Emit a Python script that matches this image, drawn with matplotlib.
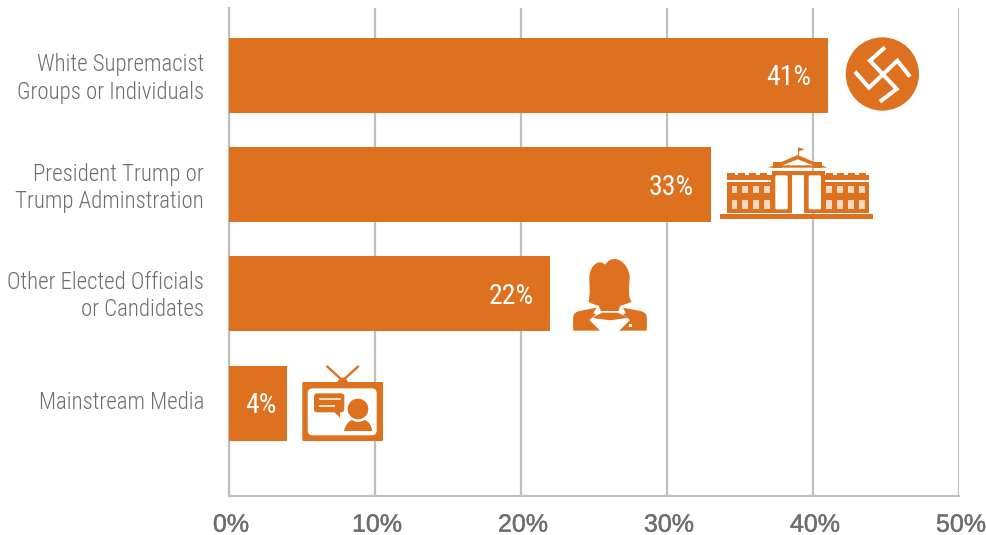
import matplotlib
matplotlib.use("Agg")
import matplotlib.pyplot as plt
import matplotlib.patheffects as pe
from matplotlib import font_manager as fm
from matplotlib.patches import Circle, Polygon, Rectangle, FancyBboxPatch, PathPatch
from matplotlib.path import Path
from matplotlib.transforms import ScaledTranslation

categories = ["White Supremacist\nGroups or Individuals", "President Trump or\nTrump Adminstration",
              "Other Elected Officials\nor Candidates", "Mainstream Media"]
values = [41, 33, 22, 4]
value_labels = ["41%", "33%", "22%", "4%"]
x_ticks = [0, 10, 20, 30, 40, 50]
x_tick_labels = ["0%", "10%", "20%", "30%", "40%", "50%"]

ORANGE = "#dd711f"
GRID = "#bfbfbf"
TEXT = "#6d6e71"
W, H = 987, 535

names = {f.name for f in fm.fontManager.ttflist}
narrow = next((n for n in ("Roboto Condensed", "Archivo Narrow", "Liberation Sans Narrow", "Roboto") if n in names))

fig = plt.figure(figsize=(W / 100, H / 100), dpi=100, facecolor="white")
L, R, T, B = 229, 959, 8, 496
ax = fig.add_axes([L / W, 1 - B / H, (R - L) / W, (B - T) / H])
step = 109.35
ax.barh(range(4), values, height=75 / step, color=ORANGE, zorder=3)
ax.set_xlim(0, 50)
ax.set_ylim((B - 75.0) / step, (T - 75.0) / step)
ax.set_xticks(x_ticks, x_tick_labels, family="Liberation Sans", fontsize=18, color=TEXT)
ax.set_yticks(range(4), categories, family=narrow, fontweight=300, fontsize=16.5, color=TEXT, linespacing=1.23)
ax.tick_params(axis="both", length=0)
ax.tick_params(axis="y", pad=18)
ax.tick_params(axis="x", pad=12)
def px(dx, dy):
    return ScaledTranslation(dx / 100, dy / 100, fig.dpi_scale_trans)
for t in ax.get_xticklabels():
    t.set_transform(t.get_transform() + px(2, 0))
    t.set_path_effects([pe.withStroke(linewidth=0.3, foreground=TEXT)])
for t, dy in zip(ax.get_yticklabels(), (1, 0.5, 2, 3.5)):
    t.set_transform(t.get_transform() + px(0, dy))
ax.grid(axis="x", color=GRID, lw=1.6, zorder=1)
for s in ("top", "right"):
    ax.spines[s].set_visible(False)
for s in ("left", "bottom"):
    ax.spines[s].set_color(GRID)
    ax.spines[s].set_linewidth(1.6)
for i, (v, lab) in enumerate(zip(values, value_labels)):
    ax.annotate(lab, (v, i), xytext=(-8 if v < 10 else -12, -2), textcoords="offset points",
                ha="right", va="center", color="white", family=narrow, fontweight=400, fontsize=20, zorder=4)

# Pictograms, drawn in a pixel-space overlay
ov = fig.add_axes([0, 0, 1, 1], facecolor="none")
ov.set_xlim(0, W)
ov.set_ylim(H, 0)
ov.axis("off")

def conv(ox, oy, pts):
    return [(ox + x / 3, oy + y / 3) for x, y in pts]

def poly(ox, oy, pts, color=ORANGE):
    ov.add_patch(Polygon(conv(ox, oy, pts), closed=True, fc=color, ec="none"))

def curve(ox, oy, start, segs, color=ORANGE):
    """Closed shape from a start point and cubic segments (c1, c2, end)."""
    verts, codes = [start], [Path.MOVETO]
    for c1, c2, e in segs:
        verts += [c1, c2, e]
        codes += [Path.CURVE4] * 3
    verts.append(start)
    codes.append(Path.CLOSEPOLY)
    ov.add_patch(PathPatch(Path(conv(ox, oy, verts), codes), fc=color, ec="none"))

def rect(ox, oy, x0, y0, x1, y1, color=ORANGE):
    ov.add_patch(Rectangle((ox + x0 / 3, oy + y0 / 3), (x1 - x0) / 3, (y1 - y0) / 3, fc=color, ec="none"))

def rrect(ox, oy, x0, y0, x1, y1, r, color=ORANGE):
    ov.add_patch(FancyBboxPatch((ox + (x0 + r) / 3, oy + (y0 + r) / 3), (x1 - x0 - 2 * r) / 3, (y1 - y0 - 2 * r) / 3,
                                boxstyle=f"round,pad={r / 3}", fc=color, ec="none"))

def line(ox, oy, pts, lw, color="white"):
    p = conv(ox, oy, pts)
    ov.plot([a for a, _ in p], [b for _, b in p], color=color, lw=lw,
            solid_capstyle="butt", solid_joinstyle="miter")

# Circle badge
ox, oy = 700, 20
ov.add_patch(Circle((ox + 547 / 3, oy + 162 / 3), 110 / 3, fc=ORANGE, ec="none"))
line(ox, oy, [(555, 82), (510, 122), (590, 207), (540, 245)], 2.9)
line(ox, oy, [(465, 155), (507, 203), (592, 122), (630, 170)], 2.9)

# White House
rect(ox, oy, 60, 582, 520, 597)
rect(ox, oy, 80, 464, 507, 579)
for x0 in (80, 112, 145, 177, 375, 408, 441, 474):
    rect(ox, oy, x0 + 2, 459, x0 + 24, 465)
rect(ox, oy, 80, 481, 213, 486, "white")
rect(ox, oy, 375, 481, 507, 486, "white")
for xs in ((95, 127, 160, 192), (378, 411, 444, 477)):
    for x0 in xs:
        for y0, y1 in ((498, 518), (540, 566)):
            rect(ox, oy, x0, y0, x0 + 17, y1, "#f7d8c0")
rect(ox, oy, 215, 452, 375, 579)
rrect(ox, oy, 226, 466, 263, 568, 4, "white")
rrect(ox, oy, 326, 466, 363, 568, 4, "white")
rect(ox, oy, 276, 466, 313, 582, "white")
poly(ox, oy, [(205, 443), (293, 405), (382, 443)])
rect(ox, oy, 220, 427, 245, 443)
rect(ox, oy, 342, 427, 367, 443)
poly(ox, oy, [(247, 436), (293, 418), (340, 436)], "white")
line(ox, oy, [(293, 380), (293, 405)], 0.7, ORANGE)
poly(ox, oy, [(295, 382), (313, 388), (295, 395)])

# Woman
ox, oy = 220, 250
curve(ox, oy, (1105, 155), [
    ((1112, 135), (1108, 100), (1108, 85)),
    ((1108, 55), (1125, 37), (1140, 37)),
    ((1148, 37), (1152, 42), (1156, 44)),
    ((1162, 33), (1172, 27), (1183, 27)),
    ((1210, 27), (1230, 60), (1229, 85)),
    ((1228, 110), (1222, 140), (1235, 155)),
    ((1225, 160), (1210, 165), (1203, 166)),
    ((1198, 172), (1197, 178), (1196, 183)),
    ((1180, 183), (1160, 183), (1142, 183)),
    ((1141, 176), (1138, 170), (1134, 166)),
    ((1125, 165), (1112, 160), (1105, 155)),
])
curve(ox, oy, (1060, 242), [
    ((1059, 225), (1059, 212), (1060, 198)),
    ((1062, 190), (1070, 185), (1078, 183)),
    ((1095, 180), (1112, 176), (1130, 173)),
    ((1126, 178), (1123, 184), (1120, 190)),
    ((1123, 191), (1125, 192), (1128, 194)),
    ((1120, 200), (1114, 205), (1108, 210)),
    ((1118, 220), (1130, 232), (1140, 242)),
])
curve(ox, oy, (1280, 242), [
    ((1281, 225), (1281, 212), (1280, 198)),
    ((1278, 190), (1270, 185), (1262, 183)),
    ((1245, 180), (1226, 176), (1208, 173)),
    ((1212, 178), (1215, 184), (1218, 190)),
    ((1215, 191), (1212, 192), (1210, 194)),
    ((1217, 200), (1224, 205), (1230, 210)),
    ((1220, 220), (1208, 232), (1198, 242)),
])
poly(ox, oy, [(1128, 197), (1148, 188), (1192, 188), (1212, 197), (1222, 204), (1170, 211), (1118, 204)])
rect(ox, oy, 1228, 222, 1235, 230, "white")

# Television
rrect(ox, oy, 247, 396, 489, 573, 3)
rrect(ox, oy, 263, 415, 470, 556, 15, "white")
line(ox, oy, [(320, 348), (368, 392)], 1.7, ORANGE)
line(ox, oy, [(416, 348), (368, 392)], 1.7, ORANGE)
poly(ox, oy, [(352, 396), (360, 383), (376, 383), (384, 396)])
rrect(ox, oy, 282, 430, 373, 487, 9)
poly(ox, oy, [(342, 485), (360, 503), (360, 485)])
line(ox, oy, [(296, 447), (362, 447)], 1.1)
line(ox, oy, [(296, 467), (345, 467)], 1.1)
ov.add_patch(Circle((ox + 414 / 3, oy + 477 / 3), 31 / 3, fc=ORANGE, ec="none"))
curve(ox, oy, (372, 543), [
    ((376, 525), (385, 514), (396, 510)),
    ((408, 518), (422, 518), (434, 510)),
    ((446, 514), (454, 525), (457, 543)),
])

fig.savefig("out.png", dpi=100, facecolor="white")
